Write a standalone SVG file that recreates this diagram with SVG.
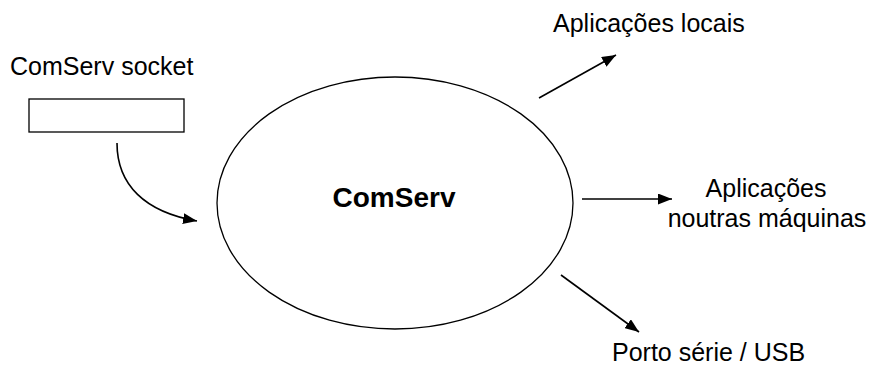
<svg xmlns="http://www.w3.org/2000/svg" width="870" height="366" viewBox="0 0 870 366">
  <style>
    .lbl { font-family: "Liberation Sans", Arial, sans-serif; font-size: 25px; fill: #000; }
    .title { font-family: "Liberation Sans", Arial, sans-serif; font-size: 28px; font-weight: bold; fill: #000; }
    .shape { fill: #fff; stroke: #000; stroke-width: 1.3; }
    .conn { fill: none; stroke: #000; stroke-width: 1.6; marker-end: url(#arrow); }
  </style>
  <defs>
    <marker id="arrow" viewBox="0 0 14 11" refX="14" refY="5.5" markerWidth="14" markerHeight="11" markerUnits="userSpaceOnUse" orient="auto">
      <path d="M0,0 L14,5.5 L0,11 Z" fill="#000"/>
    </marker>
  </defs>
  <rect width="870" height="366" fill="#fff"/>

  <g id="socket">
    <text class="lbl" x="10" y="75">ComServ socket</text>
    <rect class="shape" x="29" y="99" width="155" height="33"/>
  </g>

  <g id="comserv">
    <ellipse class="shape" cx="395" cy="203" rx="178" ry="126"/>
    <text class="title" x="394" y="207" text-anchor="middle">ComServ</text>
  </g>

  <g id="local-apps">
    <text class="lbl" x="553" y="32">Aplicações locais</text>
  </g>

  <g id="remote-apps">
    <text class="lbl" x="766" y="197" text-anchor="middle">Aplicações</text>
    <text class="lbl" x="767" y="227" text-anchor="middle">noutras máquinas</text>
  </g>

  <g id="serial-port">
    <text class="lbl" x="612" y="361">Porto série / USB</text>
  </g>

  <g id="connectors">
    <path class="conn" d="M117,143 C117,185 145,212 197,221"/>
    <path class="conn" d="M539,98 L616,55"/>
    <path class="conn" d="M582,199 L672,199"/>
    <path class="conn" d="M561,275 L639,332"/>
  </g>
</svg>
